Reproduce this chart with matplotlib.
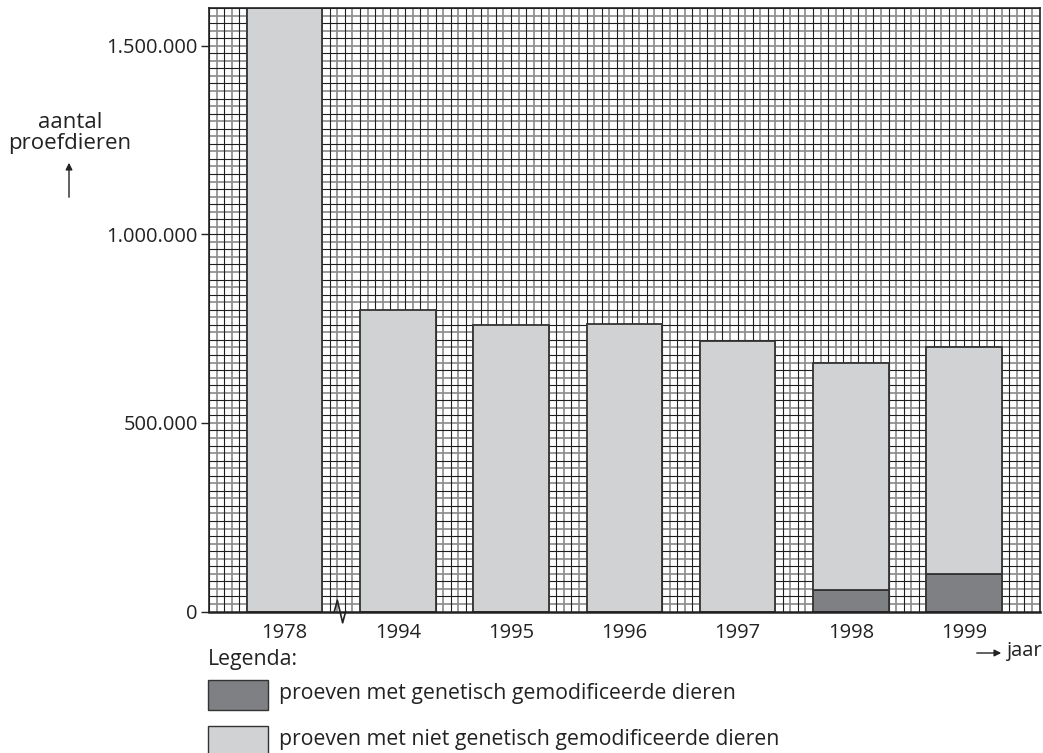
import matplotlib
matplotlib.use("Agg")
import matplotlib.pyplot as plt
import numpy as np
from matplotlib.patches import Rectangle, FancyArrowPatch
from matplotlib.ticker import FuncFormatter

# ---- data ----
years = ["1978", "1994", "1995", "1996", "1997", "1998", "1999"]
total = [1600000, 800000, 760000, 762000, 718000, 660000, 700000]
gm = [0, 0, 0, 0, 0, 57000, 99000]
non_gm = [t - g for t, g in zip(total, gm)]
yticks = [0, 500000, 1000000, 1500000]

plt.rcParams['font.family'] = ['Open Sans', 'DejaVu Sans']

W, H = 1043, 753
fig = plt.figure(figsize=(W / 100, H / 100), dpi=100)
ax = fig.add_axes([209 / W, 1 - 611.5 / H, (1039.5 - 209) / W, (611.5 - 8) / H])

xmax = 110
ymax = 1600000
ax.set_xlim(0, xmax)
ax.set_ylim(0, ymax)

# fine grid paper
ystep = 20000
for i, yv in enumerate(np.arange(0, ymax + 1, ystep)):
    dark = (i % 2 == 0)
    ax.axhline(yv, color='#1e1e1e' if dark else '#8a8a8a',
               lw=0.8 if dark else 1.2, zorder=1.5 if dark else 1)
for i, xv in enumerate(np.arange(0, xmax + 1, 1)):
    dark = (i % 2 == 0)
    ax.axvline(xv, color='#1e1e1e' if dark else '#8a8a8a',
               lw=0.8 if dark else 1.2, zorder=1.5 if dark else 1)

pos = 10 + 15 * np.arange(len(years))
light = '#d1d2d4'
darkc = '#7f8083'
edge = '#333333'
ax.bar(pos, gm, width=10, color=darkc, edgecolor=edge, linewidth=1.3, zorder=3)
ax.bar(pos, non_gm, bottom=gm, width=10, color=light, edgecolor=edge, linewidth=1.3, zorder=3)

for s in ['left', 'top', 'right']:
    ax.spines[s].set_color('#222222')
    ax.spines[s].set_linewidth(1.2)
    ax.spines[s].set_zorder(4)
ax.spines['bottom'].set_color('#222222')
ax.spines['bottom'].set_linewidth(1.8)
ax.spines['bottom'].set_zorder(4)

fs = 14.5
ax.set_yticks(yticks)
ax.yaxis.set_major_formatter(FuncFormatter(lambda v, p: f"{int(v):,}".replace(",", ".")))
ax.tick_params(axis='y', length=6, width=1.0, color='#222222', labelsize=fs,
               labelcolor='#222222', pad=2)
ax.set_xticks(pos)
ax.set_xticklabels(years)
ax.tick_params(axis='x', length=0, labelsize=fs, labelcolor='#222222', pad=8)

# axis break zigzag between 1978 and 1994
bx = (pos[0] + pos[1]) / 2
zx = [bx - 0.9, bx - 0.5, bx + 0.2, bx + 0.6]
zy = [0, 30000, -30000, 0]
ax.plot(zx, zy, color='#222222', lw=1.2, clip_on=False, zorder=5)

# y axis label with arrow
fig.text(70 / W, 1 - 133 / H, "aantal\nproefdieren", ha='center', va='center',
         fontsize=16, color='#222222', linespacing=1.05)
fig.patches.append(FancyArrowPatch((69 / W, 1 - 200 / H), (69 / W, 1 - 160 / H),
                                   transform=fig.transFigure, arrowstyle='-|>',
                                   mutation_scale=10, color='#222222', lw=1.0))

# x axis label with arrow
fig.patches.append(FancyArrowPatch((974 / W, 1 - 653 / H), (1004 / W, 1 - 653 / H),
                                   transform=fig.transFigure, arrowstyle='-|>',
                                   mutation_scale=10, color='#222222', lw=1.0))
fig.text(1042 / W, 1 - 651 / H, "jaar", ha='right', va='center', fontsize=fs, color='#222222')

# legend
lfs = 15.3
fig.text(208 / W, 1 - 659 / H, "Legenda:", ha='left', va='center', fontsize=lfs, color='#222222')
fig.patches.append(Rectangle((208 / W, 1 - 710 / H), 60 / W, 30 / H, transform=fig.transFigure,
                             facecolor=darkc, edgecolor=edge, lw=1.0))
fig.patches.append(Rectangle((208 / W, 1 - 756 / H), 60 / W, 30 / H, transform=fig.transFigure,
                             facecolor=light, edgecolor=edge, lw=1.0))
fig.text(279 / W, 1 - 694 / H, "proeven met genetisch gemodificeerde dieren",
         ha='left', va='center', fontsize=lfs, color='#222222')
fig.text(279 / W, 1 - 739 / H, "proeven met niet genetisch gemodificeerde dieren",
         ha='left', va='center', fontsize=lfs, color='#222222')

fig.savefig("out.png", dpi=100)
